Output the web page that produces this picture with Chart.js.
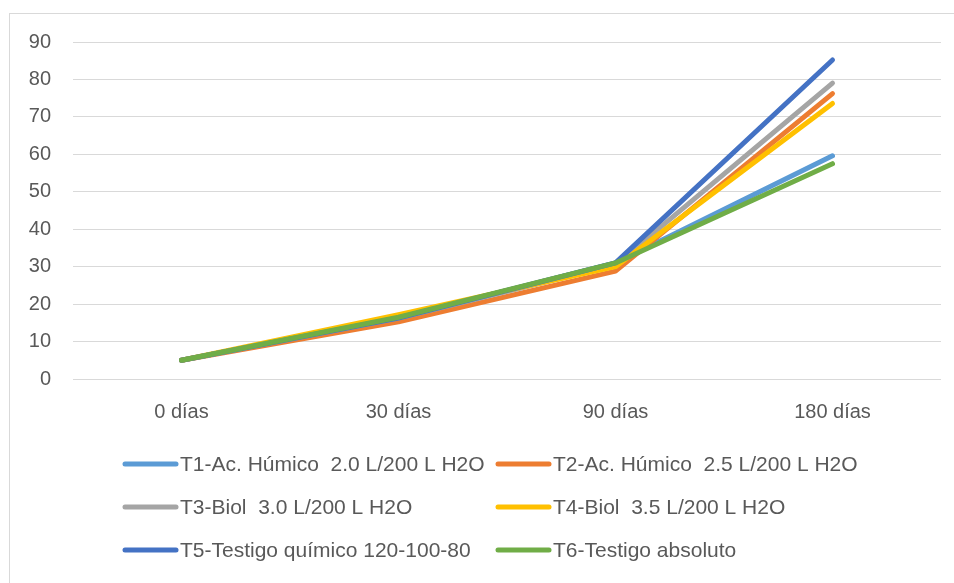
<!DOCTYPE html>
<html>
<head>
<meta charset="utf-8">
<script src="https://cdn.jsdelivr.net/npm/chart.js@4.4.1/dist/chart.umd.min.js"></script>
<style>
  html, body { margin: 0; padding: 0; background: #fff; overflow: hidden; }
  #wrap { position: relative; width: 954px; height: 583px; }
  #frame { position: absolute; left: 9px; top: 13px; width: 980px; height: 620px; border: 1px solid #d9d9d9; box-sizing: border-box; }
  canvas { position: absolute; left: 0; top: 0; }
</style>
</head>
<body>
<div id="wrap">
  <div id="frame"></div>
  <canvas id="chart" width="954" height="583"></canvas>
</div>
<script>
// ===== Datos =====
const categories = ['0 días', '30 días', '90 días', '180 días'];
const seriesNames = [
  'T1-Ac. Húmico  2.0 L/200 L H2O',
  'T2-Ac. Húmico  2.5 L/200 L H2O',
  'T3-Biol  3.0 L/200 L H2O',
  'T4-Biol  3.5 L/200 L H2O',
  'T5-Testigo químico 120-100-80',
  'T6-Testigo absoluto'
];
const t1 = [5, 16.3, 31.0, 59.6];
const t2 = [5, 15.3, 28.8, 76.2];
const t3 = [5, 16.3, 30.5, 79.0];
const t4 = [5, 17.2, 30.0, 73.6];
const t5 = [5, 16.3, 31.0, 85.2];
const t6 = [5, 16.5, 31.0, 57.5];
const seriesValues = [t1, t2, t3, t4, t5, t6];
const seriesColors = ['#5B9BD5', '#ED7D31', '#A5A5A5', '#FFC000', '#4472C4', '#70AD47'];
const yTicks = [0, 10, 20, 30, 40, 50, 60, 70, 80, 90];

const FONT = '"Liberation Sans", Arial, sans-serif';
const TEXT = '#595959';

// Leyenda en dos columnas (como Excel)
const gridLegend = {
  id: 'gridLegend',
  afterDraw(chart) {
    const ctx = chart.ctx;
    const colX = [123, 496];
    const rowY = [464, 507, 550];
    ctx.save();
    ctx.font = '21px ' + FONT;
    ctx.textBaseline = 'middle';
    ctx.textAlign = 'left';
    chart.data.datasets.forEach((ds, i) => {
      const x = colX[i % 2];
      const y = rowY[Math.floor(i / 2)];
      ctx.strokeStyle = ds.borderColor;
      ctx.lineWidth = 5;
      ctx.lineCap = 'round';
      ctx.beginPath();
      ctx.moveTo(x + 2, y);
      ctx.lineTo(x + 53, y);
      ctx.stroke();
      ctx.fillStyle = TEXT;
      ctx.fillText(ds.label, x + 57, y + 1);
    });
    ctx.restore();
  }
};

new Chart(document.getElementById('chart'), {
  type: 'line',
  data: {
    labels: categories,
    datasets: seriesNames.map((name, i) => ({
      label: name,
      data: seriesValues[i],
      borderColor: seriesColors[i],
      backgroundColor: seriesColors[i],
      borderWidth: 5,
      borderCapStyle: 'round',
      borderJoinStyle: 'round',
      pointRadius: 0,
      tension: 0,
      order: seriesNames.length - i
    }))
  },
  options: {
    responsive: false,
    animation: false,
    layout: { padding: { top: 42, left: 0, right: 13, bottom: 0 } },
    plugins: {
      legend: { display: false },
      tooltip: { enabled: false }
    },
    scales: {
      x: {
        offset: true,
        grid: { display: false, drawTicks: false },
        border: { display: false },
        ticks: { color: TEXT, font: { family: FONT, size: 20 }, padding: 21, maxRotation: 0 },
        afterFit(s) { s.height = 204; }
      },
      y: {
        min: 0,
        max: 90,
        afterBuildTicks(s) { s.ticks = yTicks.map(v => ({ value: v })); },
        grid: { color: '#d9d9d9', lineWidth: 1, drawTicks: false },
        border: { display: false },
        ticks: { color: TEXT, font: { family: FONT, size: 20 }, padding: 22 },
        afterFit(s) { s.width = 73; }
      }
    }
  },
  plugins: [gridLegend]
});
</script>
</body>
</html>
